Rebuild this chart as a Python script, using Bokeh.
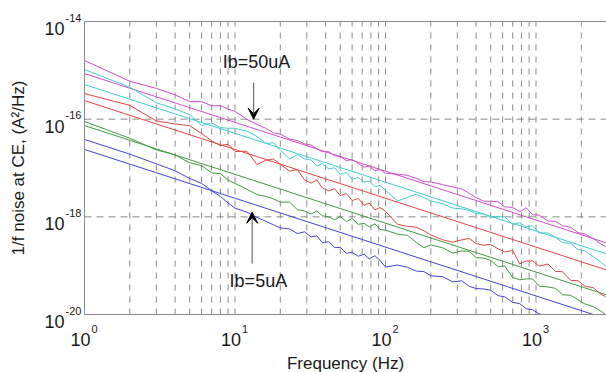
from math import pi, sqrt, log10
from bokeh.plotting import figure
from bokeh.models import Range1d, Arrow, VeeHead, Label, BoxAnnotation
from bokeh.embed import file_html
from bokeh.resources import INLINE

# ---------------- data (spectral values in units of 1e-18 A^2/Hz) ----------------
UNIT = 1e-18
FREQ = [1, 2, 3, 4, 5, 6, 7, 8, 9, 10, 12, 14, 16, 18, 20, 23, 26, 29, 32, 35, 38, 42, 46, 50,
        55, 60, 66, 72, 78, 85, 92, 100, 120, 140, 160, 180, 200, 240, 280, 320, 360, 400, 450,
        500, 560, 620, 700, 780, 860, 950, 1050, 1200, 1350, 1500, 1700, 1900, 2100, 2400, 2700, 2900]

MAGENTA_NOISE = [1590, 598, 427, 314, 229, 229, 188, 189, 161, 144, 99.6, 78, 65, 52.6, 49.5,
                 39.3, 36.4, 31.1, 29.6, 24.6, 21.6, 21.5, 17.8, 17.2, 14.2, 15.0, 12.4, 10.4, 11.0,
                 8.8, 9.35, 7.8, 7.5, 7.06, 6.18, 5.26, 5.2, 4.55, 4.08, 3.74, 3.03, 2.47, 2.10,
                 2.08, 2.04, 1.60, 1.56, 1.27, 1.53, 1.10, 1.09, 0.824, 0.809, 0.659, 0.612, 0.475,
                 0.451, 0.358, 0.277, 0.246]
CYAN_NOISE = [1040, 451, 217, 163, 124, 74, 84, 67, 65.4, 65, 56.8, 44.3, 32, 32.7, 23.3,
              15.3, 18.8, 15.3, 14.6, 11.0, 12.3, 9.6, 10.1, 7.4, 8.1, 5.85, 6.4, 5.1, 5.4, 4.13,
              4.4, 3.5, 2.1, 2.5, 2.9, 2.47, 2.12, 1.85, 1.51, 1.46, 1.36, 1.16, 1.14, 0.977,
              1.005, 1.0, 0.698, 0.755, 0.625, 0.652, 0.465, 0.469, 0.379, 0.296, 0.287, 0.213,
              0.202, 0.153, 0.118, 0.0953]
RED_NOISE = [334, 192, 92, 79.8, 73.4, 50.8, 36, 28.6, 30.7, 21.8, 22, 11.8, 14.3, 15.3, 12,
             8.64, 9.23, 5.68, 4.9, 5.68, 3.94, 3.4, 3.75, 2.72, 2.99, 2.16, 2.38, 1.72, 1.92,
             1.39, 1.55, 1.30, 0.708, 0.636, 0.612, 0.519, 0.425, 0.338, 0.303, 0.337, 0.361,
             0.282, 0.263, 0.272, 0.221, 0.191, 0.204, 0.109, 0.125, 0.125, 0.0978, 0.108,
             0.0761, 0.0752, 0.05, 0.0491, 0.0386, 0.0354, 0.026, 0.0232]
GREEN_NOISE = [89.5, 40.7, 23.5, 18.5, 12.8, 11.2, 7.96, 7.66, 5.64, 4.84, 3.67, 2.86, 2.62, 2.33,
               2.0, 2.01, 1.40, 1.32, 1.14, 1.32, 1.05, 1.0, 0.87, 1.015, 0.80, 0.929, 0.70,
               0.739, 0.62, 0.721, 0.552, 0.532, 0.443, 0.418, 0.302, 0.233, 0.266, 0.232, 0.181,
               0.201, 0.196, 0.146, 0.143, 0.128, 0.095, 0.0988, 0.0572, 0.0513, 0.0537, 0.0534,
               0.0381, 0.0367, 0.0342, 0.0254, 0.0247, 0.0201, 0.0166, 0.0145, 0.0117, 0.0099]
BLUE_NOISE = [38.4, 19.2, 12.2, 8.76, 6.1, 4.84, 3.43, 2.6, 1.92, 1.5, 1.25, 0.972, 0.812, 0.688,
              0.592, 0.565, 0.455, 0.493, 0.387, 0.408, 0.297, 0.309, 0.234, 0.237, 0.178, 0.188,
              0.156, 0.172, 0.138, 0.16, 0.129, 0.0934, 0.103, 0.0927, 0.0774, 0.0756, 0.0619,
              0.0595, 0.0464, 0.049, 0.0378, 0.034, 0.0333, 0.0314, 0.0243, 0.023, 0.0177,
              0.0167, 0.0131, 0.0125, 0.0103, 0.0094, 0.0069, 0.0095, 0.0055, 0.0041, 0.0035,
              0.0035, 0.0026, 0.0022]

# 1/f fit lines: value at 1 Hz and at 3000 Hz
FIT_FREQ = [1, 3000]
MAGENTA_FIT = [860, 0.287]
CYAN_FIT = [512, 0.171]
RED_FIT = [240, 0.080]
GREEN_FIT = [74, 0.0247]
BLUE_FIT = [24, 0.0080]

COLORS = ["#cf4fcf", "#45cccc", "#e34545", "#449a44", "#4545d4"]

# axes
X_START, X_END = 1, 2940
Y_START, Y_END = 1e-20, 1e-14
X_TICKS = [1, 10, 100, 1000]
X_EXPONENTS = ["0", "1", "2", "3"]
X_GRID = [2, 3, 4, 5, 6, 7, 8, 9, 10, 20, 30, 40, 50, 60, 70, 80, 90, 100,
          200, 300, 400, 500, 600, 700, 800, 900, 1000, 2000]
Y_TICKS = [1e-20, 1e-18, 1e-16, 1e-14]
Y_EXPONENTS = ["-20", "-18", "-16", "-14"]
Y_GRID = [1e-18, 1e-16]
TICK_BASE = "10"

# layout (pixels): plot box inside a 606 x 372 canvas
W, H = 606, 372
BOX_L, BOX_T, BOX_R, BOX_B = 84, 21, 606, 314

FONT = "Liberation Sans"
TEXT = "#1a1a1a"
GRID = "#8c8c8c"
AXIS = "#8a8a8a"

# canvas ranges chosen so that the plot box sits at the pixel box above
dxp = log10(X_END / X_START) / (BOX_R - BOX_L)
dyp = log10(Y_END / Y_START) / (BOX_B - BOX_T)
x_lo = X_START / 10 ** (BOX_L * dxp)
x_hi = X_END * 10 ** ((W - BOX_R) * dxp)
y_lo = Y_START / 10 ** ((H - BOX_B) * dyp)
y_hi = Y_END * 10 ** (BOX_T * dyp)

p = figure(width=W, height=H, x_axis_type="log", y_axis_type="log",
           x_axis_location=None, y_axis_location=None,
           x_range=Range1d(x_lo, x_hi), y_range=Range1d(y_lo, y_hi),
           output_backend="svg", toolbar_location=None,
           min_border=0, background_fill_color="white", border_fill_color="white")
p.outline_line_color = None
p.grid.visible = False

# dashed grid
p.segment(x0=X_GRID, y0=[Y_START] * len(X_GRID), x1=X_GRID, y1=[Y_END] * len(X_GRID),
          line_color=GRID, line_width=1, line_dash="6 6")
p.segment(x0=[X_START] * len(Y_GRID), y0=Y_GRID, x1=[X_END] * len(Y_GRID), y1=Y_GRID,
          line_color=GRID, line_width=1, line_dash="7 5")

noise = [MAGENTA_NOISE, CYAN_NOISE, RED_NOISE, GREEN_NOISE, BLUE_NOISE]
fits = [MAGENTA_FIT, CYAN_FIT, RED_FIT, GREEN_FIT, BLUE_FIT]
for vals, fit, col in zip(noise, fits, COLORS):
    p.line(FREQ, [v * UNIT for v in vals], line_color=col, line_width=1)
    p.line(FIT_FREQ, [v * UNIT for v in fit], line_color=col, line_width=1)

# blank out everything below the x axis (curves running under 1e-20)
p.add_layout(BoxAnnotation(top=Y_START, fill_color="white", fill_alpha=1.0,
                           line_color=None, level="annotation"))
p.add_layout(BoxAnnotation(right=X_START, fill_color="white", fill_alpha=1.0,
                           line_color=None, level="annotation"))

# axis box lines (left, bottom, top)
for xs, ys, xe, ye in [(X_START, Y_START, X_START, Y_END), (X_START, Y_START, X_END, Y_START),
                       (X_START, Y_END, X_END, Y_END)]:
    p.add_layout(Arrow(end=None, x_start=xs, y_start=ys, x_end=xe, y_end=ye,
                       line_color=AXIS, line_width=1))


def lab(x, y, text, size, align="left", baseline="alphabetic", dx=0, dy=0, angle=0):
    p.add_layout(Label(x=x, y=y, text=text, text_align=align, text_baseline=baseline,
                       x_offset=dx, y_offset=dy, angle=angle, text_font=FONT,
                       text_font_size=size, text_color=TEXT))


# tick labels: "10" with a raised exponent
for t, e in zip(X_TICKS, X_EXPONENTS):
    lab(t, Y_START, TICK_BASE, "18px", align="right", dx=6, dy=-25)
    lab(t, Y_START, e, "11px", align="left", dx=7, dy=-14)
for t, e in zip(Y_TICKS, Y_EXPONENTS):
    lab(X_START, t, TICK_BASE, "18px", align="right", dx=-20, dy=-7)
    lab(X_START, t, e, "11px", align="left", dx=-19, dy=4)

# axis titles
lab(sqrt(X_START * X_END), Y_START, "Frequency (Hz)", "17px", align="center", dy=-49)
lab(X_START, sqrt(Y_START * Y_END), "1/f noise at CE, (A\u00b2/Hz)", "17px",
    align="center", baseline="middle", dx=-66, angle=pi / 2)

# annotations
p.add_layout(Arrow(end=VeeHead(size=11, fill_color="black", line_color="black"),
                   x_start=13.3, y_start=5.6e-16, x_end=13.3, y_end=1.0e-16,
                   line_color="#555555", line_width=1))
p.add_layout(Arrow(end=VeeHead(size=11, fill_color="black", line_color="black"),
                   x_start=13.0, y_start=1.1e-19, x_end=13.0, y_end=1.24e-18,
                   line_color="#555555", line_width=1))
lab(13.9, 1.45e-15, "Ib=50uA", "18px", align="center", baseline="middle")
lab(14.3, 4.9e-20, "Ib=5uA", "18px", align="center", baseline="middle")

open("out.html", "w").write(file_html(p, INLINE))
